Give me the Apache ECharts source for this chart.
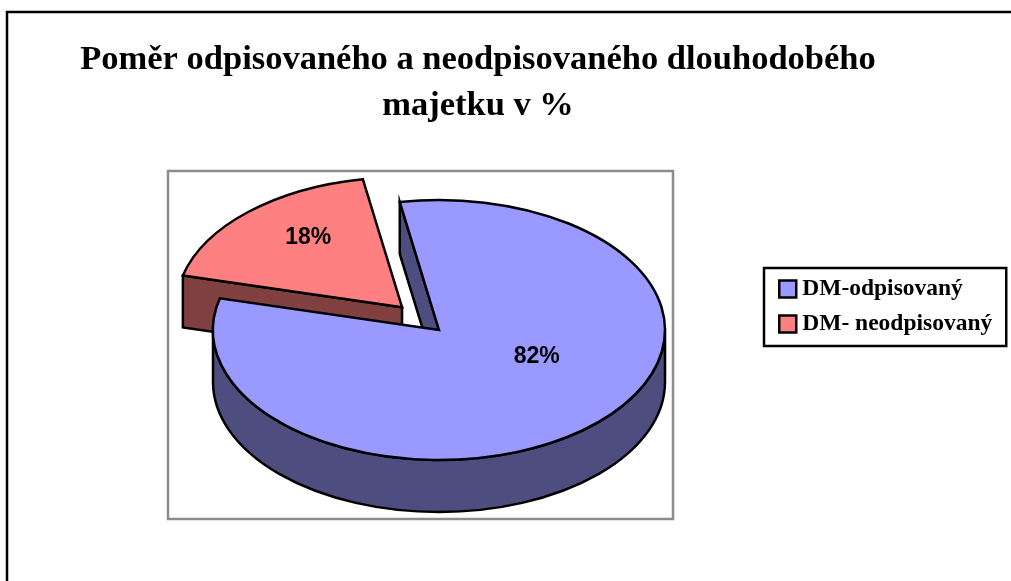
<!DOCTYPE html>
<html>
<head>
<meta charset="utf-8">
<style>
  html, body { margin: 0; padding: 0; background: #fff; }
  #chart { width: 1011px; height: 581px; }
</style>
<script src="https://cdn.jsdelivr.net/npm/echarts@6/dist/echarts.min.js"></script>
</head>
<body>
<div id="chart"></div>
<script>
const categories = ['DM-odpisovaný', 'DM- neodpisovaný'];
const values = [81.7, 18.3];
const labels = ['82%', '18%'];
const topColors = ['#9999FF', '#FF8080'];
const sideColors = ['#4D4D80', '#804040'];

// pie geometry in pixels
const cx = 439, cy = 330, rx = 226, ry = 130, depth = 52;
const firstAngle = 350;   // degrees clockwise from top
const explode = [0, 0.24];
const labelPos = [[0.635, 0.285], [0.609, 0.727]];

const total = values.reduce((a, b) => a + b, 0);
const ptAt = (c, deg) => {
  const a = deg * Math.PI / 180;
  return [c[0] + rx * Math.sin(a), c[1] - ry * Math.cos(a)];
};
const sliceInfo = (i) => {
  let from = firstAngle;
  for (let k = 0; k < i; k++) from += values[k] / total * 360;
  const to = from + values[i] / total * 360;
  const mid = (from + to) / 2 * Math.PI / 180;
  const c = [cx + rx * explode[i] * Math.sin(mid), cy - ry * explode[i] * Math.cos(mid)];
  return { from, to, mid, c };
};
// SVG elliptical arc going clockwise on screen
const arcTo = (p) => `A ${rx} ${ry} 0 0 1 ${p[0]} ${p[1]}`;
const arcPath = (c, from, to) => {
  let d = '', step = 170, a = from;
  while (a < to) {
    a = Math.min(a + step, to);
    d += arcTo(ptAt(c, a)) + ' ';
  }
  return d;
};
const line = { stroke: '#000', lineWidth: 2.5, lineJoin: 'miter' };

const renderSlice = (params, api) => {
  const i = api.value(0);
  const s = sliceInfo(i);
  const children = [];
  const side = (d, z2) => children.push({
    type: 'path', z2,
    shape: { pathData: d },
    style: Object.assign({ fill: sideColors[i] }, line)
  });
  const p0 = ptAt(s.c, s.from);
  // wall at the slice start
  side(`M ${p0[0]} ${p0[1]} L ${p0[0]} ${p0[1] + depth} L ${s.c[0]} ${s.c[1] + depth} L ${s.c[0]} ${s.c[1]} Z`, i === 0 ? 2 : 1);
  if (i === 0) {
    // outer rim of the lower half
    const r0 = ptAt(s.c, 90), r1 = ptAt(s.c, 270);
    side(`M ${r0[0]} ${r0[1]} ${arcPath(s.c, 90, 270)} L ${r1[0]} ${r1[1] + depth} ` +
      `A ${rx} ${ry} 0 0 0 ${s.c[0]} ${s.c[1] + ry + depth} A ${rx} ${ry} 0 0 0 ${r0[0]} ${r0[1] + depth} Z`, 3);
  }
  children.push({
    type: 'path', z2: i === 0 ? 5 : 4,
    shape: { pathData: `M ${s.c[0]} ${s.c[1]} L ${p0[0]} ${p0[1]} ${arcPath(s.c, s.from, s.to)} Z` },
    style: Object.assign({ fill: topColors[i] }, line)
  });
  children.push({
    type: 'text', z2: 10,
    style: {
      x: s.c[0] + rx * labelPos[i][0] * Math.sin(s.mid),
      y: s.c[1] - ry * labelPos[i][1] * Math.cos(s.mid),
      text: labels[i], fill: '#000', align: 'center', verticalAlign: 'middle',
      font: 'bold 23px "Liberation Sans", Arial, sans-serif'
    }
  });
  return { type: 'group', children };
};

const chart = echarts.init(document.getElementById('chart'), null, { renderer: 'canvas' });
chart.setOption({
  animation: false,
  backgroundColor: '#fff',
  title: {
    text: 'Poměr odpisovaného a neodpisovaného dlouhodobého\nmajetku v %',
    left: 473, top: 32, textAlign: 'center',
    textStyle: {
      fontFamily: '"Liberation Serif", "Times New Roman", serif',
      fontSize: 34.5, fontWeight: 'bold', color: '#000', lineHeight: 46
    }
  },
  legend: {
    orient: 'vertical', left: 764, top: 268,
    padding: [9, 14, 10, 14],
    itemGap: 11, itemWidth: 17, itemHeight: 17,
    borderColor: '#000', borderWidth: 2.5,
    icon: 'rect',
    selectedMode: false,
    data: categories,
    itemStyle: { borderColor: '#000', borderWidth: 2.5 },
    textStyle: {
      fontFamily: '"Liberation Serif", "Times New Roman", serif',
      fontSize: 23.5, fontWeight: 'bold', color: '#000', padding: [0, 0, 0, 1]
    }
  },
  graphic: [
    { type: 'rect', z: -1, shape: { x: 7, y: 12, width: 1010, height: 600 },
      style: { fill: 'none', stroke: '#000', lineWidth: 2.5 } },
    { type: 'rect', z: -1, shape: { x: 168, y: 171, width: 505, height: 348 },
      style: { fill: 'none', stroke: '#8C8C8C', lineWidth: 2.5 } }
  ],
  series: categories.map((name, i) => ({
    type: 'custom',
    name,
    coordinateSystem: 'none',
    z: 2,
    itemStyle: { color: topColors[i] },
    data: [[i, values[i]]],
    renderItem: renderSlice
  }))
});
</script>
</body>
</html>
